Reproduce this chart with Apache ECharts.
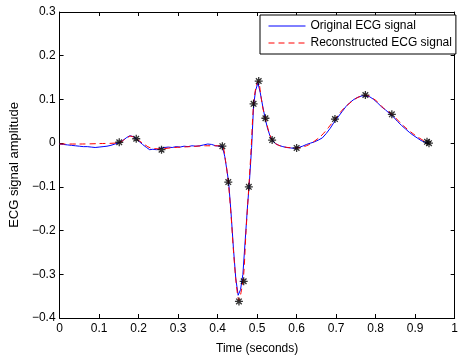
<!DOCTYPE html>
<html><head><meta charset="utf-8">
<script src="https://cdn.jsdelivr.net/npm/echarts@6/dist/echarts.min.js"></script>
<style>html,body{margin:0;padding:0;background:#fff}#c{width:461px;height:360px}</style>
</head><body><div id="c"></div>
<script>
const xTicks = [0,0.1,0.2,0.3,0.4,0.5,0.6,0.7,0.8,0.9,1];
const yTicks = [-0.4,-0.3,-0.2,-0.1,0,0.1,0.2,0.3];
const origT = [0.000,0.010,0.020,0.030,0.040,0.050,0.060,0.070,0.080,0.090,0.100,0.110,0.120,0.130,0.140,0.150,0.160,0.170,0.178,0.186,0.194,0.200,0.210,0.220,0.228,0.236,0.245,0.255,0.265,0.275,0.285,0.295,0.305,0.315,0.325,0.335,0.345,0.355,0.365,0.375,0.385,0.395,0.405,0.412,0.418,0.424,0.428,0.434,0.440,0.446,0.452,0.458,0.464,0.470,0.476,0.480,0.486,0.491,0.496,0.502,0.508,0.514,0.520,0.526,0.532,0.538,0.546,0.555,0.565,0.575,0.585,0.595,0.605,0.615,0.625,0.635,0.645,0.655,0.665,0.675,0.685,0.695,0.705,0.715,0.725,0.735,0.745,0.755,0.765,0.775,0.785,0.795,0.805,0.815,0.825,0.835,0.845,0.855,0.865,0.875,0.885,0.895,0.905,0.915,0.925,0.935];
const origV = [-0.002,-0.003,-0.004,-0.005,-0.006,-0.007,-0.008,-0.008,-0.009,-0.010,-0.009,-0.008,-0.007,-0.005,-0.002,0.001,0.006,0.013,0.017,0.015,0.010,0.005,-0.003,-0.010,-0.015,-0.014,-0.015,-0.012,-0.010,-0.009,-0.010,-0.008,-0.009,-0.007,-0.008,-0.006,-0.007,-0.006,-0.004,-0.002,-0.003,-0.006,-0.007,-0.007,-0.030,-0.065,-0.090,-0.160,-0.240,-0.310,-0.348,-0.335,-0.300,-0.220,-0.140,-0.095,-0.010,0.085,0.120,0.138,0.115,0.085,0.058,0.035,0.018,0.007,-0.001,-0.005,-0.008,-0.010,-0.011,-0.012,-0.010,-0.007,-0.003,0.000,0.003,0.007,0.012,0.022,0.034,0.048,0.060,0.072,0.084,0.093,0.100,0.105,0.108,0.108,0.106,0.100,0.092,0.083,0.076,0.068,0.060,0.050,0.041,0.033,0.025,0.018,0.012,0.006,0.002,-0.001];
const recT = [0.000,0.050,0.100,0.150,0.170,0.180,0.194,0.210,0.230,0.255,0.290,0.330,0.370,0.400,0.412,0.420,0.427,0.434,0.440,0.447,0.454,0.460,0.466,0.472,0.479,0.485,0.491,0.497,0.503,0.510,0.515,0.521,0.530,0.538,0.550,0.570,0.600,0.630,0.660,0.680,0.697,0.720,0.750,0.774,0.800,0.820,0.841,0.870,0.900,0.930];
const recV = [-0.002,-0.002,-0.001,0.001,0.012,0.016,0.010,0.000,-0.011,-0.013,-0.010,-0.008,-0.006,-0.006,-0.007,-0.040,-0.089,-0.165,-0.245,-0.320,-0.360,-0.338,-0.300,-0.200,-0.100,-0.010,0.090,0.128,0.142,0.105,0.078,0.057,0.025,0.007,-0.003,-0.009,-0.011,-0.004,0.015,0.035,0.055,0.080,0.102,0.110,0.098,0.080,0.066,0.040,0.018,0.001];
const sampT = [0.151,0.194,0.258,0.412,0.427,0.454,0.466,0.479,0.491,0.504,0.521,0.538,0.600,0.697,0.774,0.841,0.930,0.935];
const sampV = [0.002,0.010,-0.015,-0.007,-0.089,-0.362,-0.316,-0.100,0.090,0.142,0.057,0.007,-0.011,0.055,0.110,0.066,0.003,0.000];

const zip = (a,b)=>a.map((t,i)=>[t,b[i]]);
const fmtY = v => (Math.round(v*10)/10).toString().replace('-', '\u2212');
const fnt = 'Liberation Sans, Arial, sans-serif';
const star = 'path://M0,-10L0,10M-10,0L10,0M-7,-7L7,7M-7,7L7,-7';
const base = {min:0,max:1,interval:0.1};
const ybase = {min:-0.4,max:0.3,interval:0.1};
const chart = echarts.init(document.getElementById('c'));
chart.setOption({
  animation:false,
  backgroundColor:'#fff',
  grid:{left:57,right:1,top:12,bottom:37,containLabel:false},
  legend:{
    data:['Original ECG signal','Reconstructed ECG signal'],
    orient:'vertical', left:260, top:15,
    borderColor:'#000', borderWidth:1, borderRadius:0,
    padding:[5,4,5,8], itemGap:5, itemWidth:37, itemHeight:12,
    backgroundColor:'#fff',
    itemStyle:{color:'rgba(0,0,0,0)',borderWidth:0,opacity:0},
    lineStyle:{width:1},
    textStyle:{fontFamily:fnt,fontSize:12,color:'#000',padding:[0,0,0,0]}
  },
  xAxis:[
    Object.assign({type:'value',position:'bottom',name:'Time (seconds)',nameLocation:'middle',nameGap:25,
      nameTextStyle:{fontFamily:fnt,fontSize:12,color:'#000'},
      axisLine:{onZero:false,lineStyle:{color:'#000',width:1}},
      axisTick:{inside:true,length:4,lineStyle:{color:'#000'}},
      axisLabel:{fontFamily:fnt,fontSize:12,color:'#000',margin:5,formatter:v=>String(Math.round(v*10)/10)},
      splitLine:{show:false}},base),
    Object.assign({type:'value',position:'top',
      axisLine:{onZero:false,lineStyle:{color:'#000',width:1}},
      axisTick:{inside:true,length:4,lineStyle:{color:'#000'}},
      axisLabel:{show:false},splitLine:{show:false}},base)
  ],
  yAxis:[
    Object.assign({type:'value',position:'left',name:'ECG signal amplitude',nameLocation:'middle',nameGap:37,nameRotate:90,
      nameTextStyle:{fontFamily:fnt,fontSize:13,color:'#000'},
      axisLine:{onZero:false,lineStyle:{color:'#000',width:1}},
      axisTick:{inside:true,length:4,lineStyle:{color:'#000'}},
      axisLabel:{fontFamily:fnt,fontSize:12,color:'#000',margin:4,formatter:fmtY},
      splitLine:{show:false}},ybase),
    Object.assign({type:'value',position:'right',
      axisLine:{onZero:false,lineStyle:{color:'#000',width:1}},
      axisTick:{inside:true,length:4,lineStyle:{color:'#000'}},
      axisLabel:{show:false},splitLine:{show:false}},ybase)
  ],
  series:[
    {name:'Original ECG signal',type:'line',data:zip(origT,origV),symbol:'none',
      lineStyle:{color:'#0000ff',width:1},itemStyle:{color:'#0000ff'},z:2},
    {name:'Reconstructed ECG signal',type:'line',data:zip(recT,recV),symbol:'none',smooth:0.3,
      lineStyle:{color:'#ff0000',width:1,type:[6,4]},itemStyle:{color:'#ff0000'},z:3},
    {name:'samples',type:'scatter',data:zip(sampT,sampV),symbol:star,symbolSize:8,
      itemStyle:{color:'none',borderColor:'#000',borderWidth:1.3},z:4}
  ]
});
</script></body></html>
